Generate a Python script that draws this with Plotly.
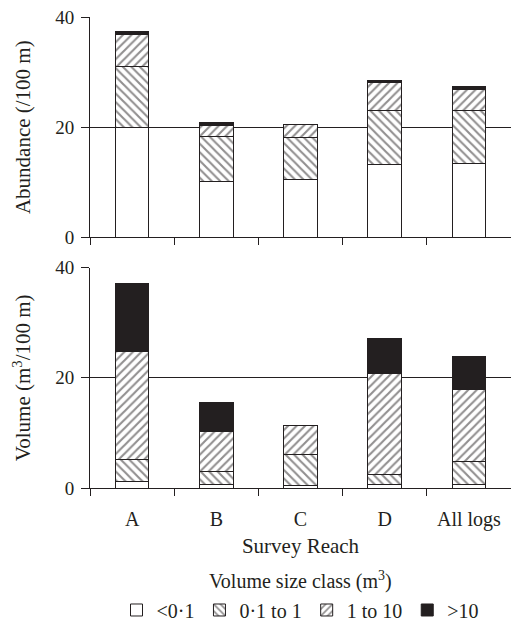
import plotly.graph_objects as go
from plotly.subplots import make_subplots

categories = ["A", "B", "C", "D", "All logs"]
classes = ["<0·1", "0·1 to 1", "1 to 10", ">10"]

# Abundance (/100 m) per volume size class
abund_lt01 = [20.0, 10.2, 10.6, 13.2, 13.4]
abund_01_1 = [11.1, 8.2, 7.6, 9.9, 9.7]
abund_1_10 = [5.7, 2.0, 2.3, 5.1, 3.7]
abund_gt10 = [0.5, 0.5, 0.0, 0.25, 0.5]

# Volume (m3/100 m) per volume size class
vol_lt01 = [1.15, 0.7, 0.45, 0.7, 0.7]
vol_01_1 = [4.05, 2.35, 5.55, 1.75, 4.1]
vol_1_10 = [19.6, 7.25, 5.4, 18.35, 13.1]
vol_gt10 = [12.4, 5.2, 0.0, 6.4, 6.0]

y_ticks = [0, 20, 40]

FONT = "Liberation Serif, Times New Roman, serif"
INK = "#231f20"

styles = [
    dict(color="white", pattern=dict(shape="")),
    dict(color="white", pattern=dict(shape="\\", fgcolor=INK, bgcolor="white", size=6, solidity=0.35)),
    dict(color="white", pattern=dict(shape="/", fgcolor=INK, bgcolor="white", size=6, solidity=0.35)),
    dict(color=INK, pattern=dict(shape="")),
]

fig = make_subplots(rows=2, cols=1, shared_xaxes=False, vertical_spacing=0.064)

abund = [abund_lt01, abund_01_1, abund_1_10, abund_gt10]
vol = [vol_lt01, vol_01_1, vol_1_10, vol_gt10]

for i, name in enumerate(classes):
    st = styles[i]
    fig.add_trace(go.Bar(
        x=categories, y=abund[i], name=name, legendgroup=name, showlegend=True,
        marker=dict(color=st["color"], pattern=st["pattern"], line=dict(color=INK, width=1)),
    ), row=1, col=1)
    fig.add_trace(go.Bar(
        x=categories, y=vol[i], name=name, legendgroup=name, showlegend=False,
        marker=dict(color=st["color"], pattern=st["pattern"], line=dict(color=INK, width=1)),
    ), row=2, col=1)

fig.update_layout(
    barmode="stack",
    bargap=0.6,
    width=511, height=630,
    margin=dict(l=90, r=0, t=17, b=134),
    paper_bgcolor="white",
    plot_bgcolor="white",
    font=dict(family=FONT, size=20, color=INK),
    legend=dict(
        orientation="h", x=0.5, xanchor="center", y=-0.259, yanchor="middle",
        font=dict(size=20), itemwidth=30,
    ),
    annotations=[dict(
        text="Volume size class (m<sup>3</sup>)", xref="paper", yref="paper",
        x=0.5, y=-0.197, xanchor="center", yanchor="middle", showarrow=False,
        font=dict(size=20, family=FONT, color=INK),
    )],
)

for r in (1, 2):
    fig.update_xaxes(
        row=r, col=1, type="category", range=[-0.5, 4.5],
        showline=True, linecolor=INK, linewidth=1,
        ticks="outside", tickson="boundaries", ticklen=7, tickcolor=INK,
        showgrid=False, showticklabels=(r == 2), tickfont=dict(size=20),
    )
    fig.update_yaxes(
        row=r, col=1, range=[0, 40], tickvals=y_ticks,
        showline=True, linecolor=INK, linewidth=1,
        ticks="outside", ticklen=8, tickcolor=INK, tickfont=dict(size=19),
        ticklabelstandoff=3,
        showgrid=True, gridcolor=INK, gridwidth=1,
        zeroline=False,
    )

fig.update_xaxes(row=2, col=1, ticklabelstandoff=13, title=dict(text="Survey Reach", standoff=8, font=dict(size=21)))
fig.update_yaxes(row=1, col=1, title=dict(text="Abundance (/100 m)", standoff=18, font=dict(size=21)))
fig.update_yaxes(row=2, col=1, title=dict(text="Volume (m<sup>3</sup>/100 m)", standoff=18, font=dict(size=21)))

# remove the page's default 8px body margin so the 511x630 figure fills the window exactly
fig.write_html(
    "out.html",
    config={"displayModeBar": False},
    post_script="document.body.style.margin='0';",
)
